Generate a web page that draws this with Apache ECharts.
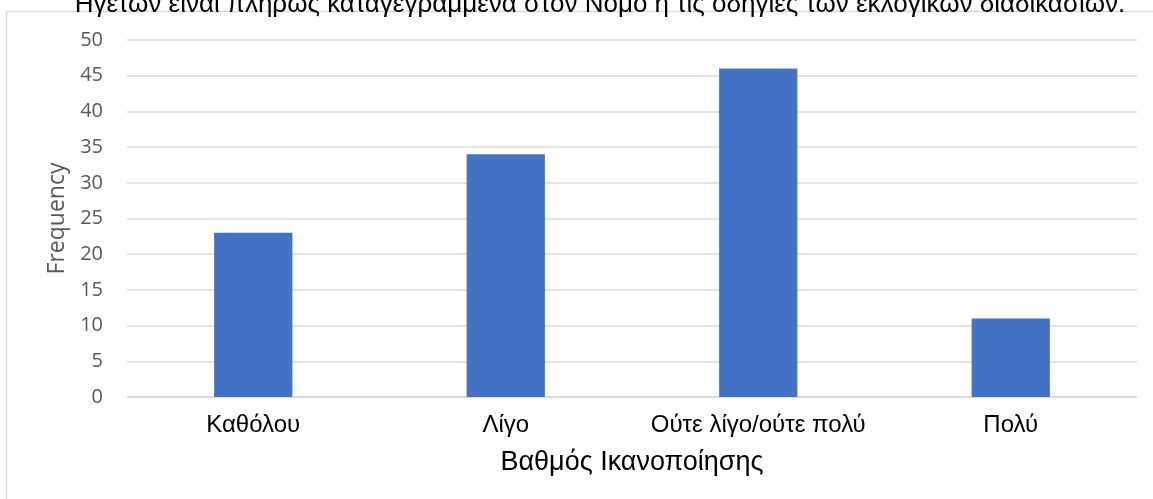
<!DOCTYPE html>
<html>
<head>
<meta charset="utf-8">
<script src="https://cdn.jsdelivr.net/npm/echarts@6/dist/echarts.min.js"></script>
<style>
  html, body { margin: 0; padding: 0; background: #fff; }
  #chart { width: 1153px; height: 499px; }
</style>
</head>
<body>
<div id="chart"></div>
<script>
// Satisfaction level categories and response counts
const categories = ['Καθόλου', 'Λίγο', 'Ούτε λίγο/ούτε πολύ', 'Πολύ'];
const frequency = [23, 34, 46, 11];
const titleText = 'Ηγετών είναι πλήρως καταγεγραμμένα στον Νόμο ή τις οδηγίες των εκλογικών διαδικασιών.';
const xAxisTitle = 'Βαθμός Ικανοποίησης';
const yAxisTitle = 'Frequency';

const chart = echarts.init(document.getElementById('chart'));
chart.setOption({
  animation: false,
  title: {
    text: titleText,
    left: 595,
    textAlign: 'center',
    top: -13,
    textStyle: { fontFamily: 'Liberation Sans, Arial', fontSize: 26, fontWeight: 'normal', color: '#000' }
  },
  graphic: [{
    type: 'rect',
    shape: { x: 6.5, y: 11.5, width: 1200, height: 600 },
    style: { fill: 'none', stroke: '#d9d9d9', lineWidth: 1.5 },
    silent: true,
    z: -1
  }],
  grid: { left: 127, right: 16, top: 40, bottom: 102, containLabel: false },
  xAxis: {
    type: 'category',
    data: categories,
    name: xAxisTitle,
    nameLocation: 'middle',
    nameGap: 52,
    nameTextStyle: { fontFamily: 'Liberation Sans, Arial', fontSize: 27, color: '#000' },
    axisLine: { lineStyle: { color: '#d9d9d9', width: 1.5 } },
    axisTick: { show: false },
    axisLabel: { interval: 0, fontFamily: 'Liberation Sans, Arial', fontSize: 24, color: '#000', margin: 16 }
  },
  yAxis: {
    type: 'value',
    min: 0, max: 50, interval: 5,
    name: yAxisTitle,
    nameLocation: 'middle',
    nameGap: 58,
    nameTextStyle: { fontFamily: 'Open Sans, Noto Sans', fontSize: 23, color: '#595959' },
    axisLine: { show: false },
    axisTick: { show: false },
    splitLine: { lineStyle: { color: '#d9d9d9', width: 1.5 } },
    axisLabel: { fontFamily: 'Open Sans, Noto Sans', fontSize: 20, color: '#595959', margin: 24 }
  },
  series: [{
    type: 'bar',
    data: frequency,
    barWidth: '31%',
    itemStyle: { color: '#4472c4' }
  }]
});
</script>
</body>
</html>
